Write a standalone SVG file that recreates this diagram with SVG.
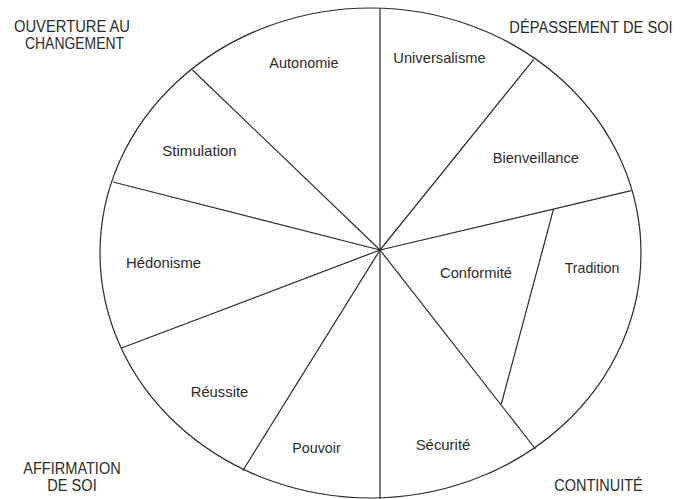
<svg xmlns="http://www.w3.org/2000/svg" width="686" height="499" viewBox="0 0 686 499">
<style>
.ln{fill:none;stroke:#2a2a2a;stroke-width:1.2}
.t{font-family:"Liberation Sans",Arial,Helvetica,sans-serif;fill:#2b2b2b;text-anchor:middle}
.h{font-size:16px}
.l{font-size:15px}
</style>
<rect width="686" height="499" fill="#ffffff"/>
<g id="connectors">
<ellipse class="ln" cx="370.5" cy="253" rx="270.5" ry="245"/>
<line class="ln" x1="380" y1="250" x2="380" y2="8.2"/>
<line class="ln" x1="380" y1="250" x2="380" y2="499"/>
<line class="ln" x1="380" y1="250" x2="192.5" y2="70"/>
<line class="ln" x1="380" y1="250" x2="113" y2="182"/>
<line class="ln" x1="380" y1="250" x2="121.6" y2="348"/>
<line class="ln" x1="380" y1="250" x2="242.8" y2="470.7"/>
<line class="ln" x1="380" y1="250" x2="535.5" y2="449"/>
<line class="ln" x1="380" y1="250" x2="533.7" y2="59.3"/>
<line class="ln" x1="380" y1="250" x2="631.2" y2="190.7"/>
<line class="ln" x1="553.5" y1="209.2" x2="501.3" y2="404"/>
</g>
<g id="ouverture"><text class="t h" x="72" y="32.3" textLength="116" lengthAdjust="spacingAndGlyphs">OUVERTURE AU</text><text class="t h" x="74.5" y="49.3" textLength="99" lengthAdjust="spacingAndGlyphs">CHANGEMENT</text></g>
<g id="depassement"><text class="t h" x="591" y="33.3" textLength="163.4" lengthAdjust="spacingAndGlyphs">DÉPASSEMENT DE SOI</text></g>
<g id="affirmation"><text class="t h" x="72" y="474.3" textLength="97.4" lengthAdjust="spacingAndGlyphs">AFFIRMATION</text><text class="t h" x="72" y="491" textLength="49.4" lengthAdjust="spacingAndGlyphs">DE SOI</text></g>
<g id="continuite"><text class="t h" x="598.5" y="490.7" textLength="88.4" lengthAdjust="spacingAndGlyphs">CONTINUITÉ</text></g>
<g id="autonomie"><text class="t l" x="304" y="67.7" textLength="69.3" lengthAdjust="spacingAndGlyphs">Autonomie</text></g>
<g id="universalisme"><text class="t l" x="439.5" y="62.7" textLength="92.4" lengthAdjust="spacingAndGlyphs">Universalisme</text></g>
<g id="stimulation"><text class="t l" x="199.5" y="156" textLength="74.4" lengthAdjust="spacingAndGlyphs">Stimulation</text></g>
<g id="bienveillance"><text class="t l" x="535.8" y="163.3" textLength="86.3" lengthAdjust="spacingAndGlyphs">Bienveillance</text></g>
<g id="hedonisme"><text class="t l" x="163.5" y="268.3" textLength="75" lengthAdjust="spacingAndGlyphs">Hédonisme</text></g>
<g id="conformite"><text class="t l" x="476" y="278.3" textLength="72" lengthAdjust="spacingAndGlyphs">Conformité</text></g>
<g id="tradition"><text class="t l" x="592" y="272.7" textLength="54.7" lengthAdjust="spacingAndGlyphs">Tradition</text></g>
<g id="reussite"><text class="t l" x="219.5" y="396.7" textLength="57.6" lengthAdjust="spacingAndGlyphs">Réussite</text></g>
<g id="pouvoir"><text class="t l" x="316.5" y="452.7" textLength="48.4" lengthAdjust="spacingAndGlyphs">Pouvoir</text></g>
<g id="securite"><text class="t l" x="443" y="450" textLength="54.7" lengthAdjust="spacingAndGlyphs">Sécurité</text></g>
</svg>
